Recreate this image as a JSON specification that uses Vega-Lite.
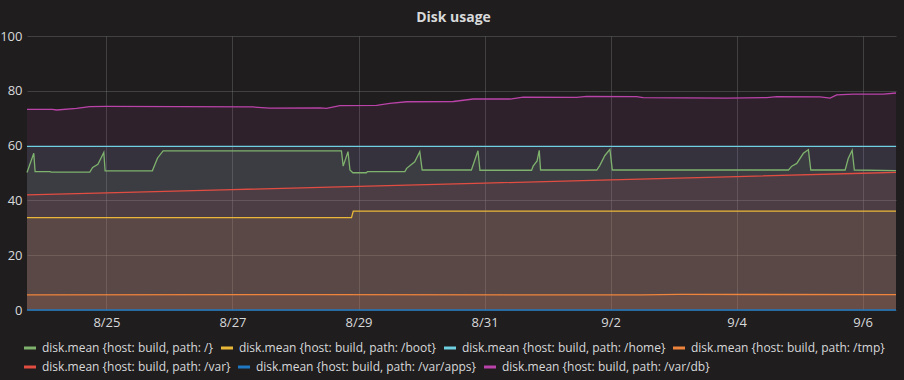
{
  "$schema": "https://vega.github.io/schema/vega-lite/v6.json",
  "width": 869,
  "height": 274,
  "autosize": {"type": "none"},
  "padding": {"left": 27, "top": 36, "right": 8, "bottom": 70},
  "background": "#1f1d1e",
  "config": {"view": {"stroke": null}},
  "title": {"text": "Disk usage", "anchor": "middle", "frame": "group", "dx": -8, "offset": -6, "baseline": "alphabetic", "font": "Open Sans", "fontSize": 14, "fontWeight": "bold", "color": "#d8d9da"},
  "datasets": {
    "series": [
      {"path": "/", "t": "2017-08-23T17:45", "v": 50.2},
      {"path": "/", "t": "2017-08-23T20:20", "v": 57.2},
      {"path": "/", "t": "2017-08-23T20:50", "v": 50.5},
      {"path": "/", "t": "2017-08-24T02:30", "v": 50.5},
      {"path": "/", "t": "2017-08-24T03:00", "v": 50.3},
      {"path": "/", "t": "2017-08-24T17:40", "v": 50.3},
      {"path": "/", "t": "2017-08-24T18:45", "v": 52.0},
      {"path": "/", "t": "2017-08-24T20:45", "v": 53.2},
      {"path": "/", "t": "2017-08-24T23:00", "v": 57.5},
      {"path": "/", "t": "2017-08-24T23:30", "v": 50.8},
      {"path": "/", "t": "2017-08-25T17:30", "v": 50.8},
      {"path": "/", "t": "2017-08-25T19:25", "v": 55.4},
      {"path": "/", "t": "2017-08-25T21:35", "v": 58.1},
      {"path": "/", "t": "2017-08-28T17:30", "v": 58.1},
      {"path": "/", "t": "2017-08-28T18:10", "v": 52.5},
      {"path": "/", "t": "2017-08-28T20:00", "v": 57.8},
      {"path": "/", "t": "2017-08-28T20:45", "v": 51.1},
      {"path": "/", "t": "2017-08-28T21:50", "v": 50.1},
      {"path": "/", "t": "2017-08-29T03:00", "v": 50.1},
      {"path": "/", "t": "2017-08-29T03:25", "v": 50.5},
      {"path": "/", "t": "2017-08-29T17:40", "v": 50.5},
      {"path": "/", "t": "2017-08-29T18:20", "v": 51.7},
      {"path": "/", "t": "2017-08-29T21:25", "v": 54.1},
      {"path": "/", "t": "2017-08-29T23:20", "v": 57.8},
      {"path": "/", "t": "2017-08-30T00:15", "v": 51.1},
      {"path": "/", "t": "2017-08-30T19:00", "v": 51.1},
      {"path": "/", "t": "2017-08-30T21:30", "v": 58.1},
      {"path": "/", "t": "2017-08-30T22:15", "v": 51.0},
      {"path": "/", "t": "2017-08-31T17:55", "v": 51.0},
      {"path": "/", "t": "2017-08-31T18:30", "v": 52.5},
      {"path": "/", "t": "2017-08-31T20:00", "v": 54.4},
      {"path": "/", "t": "2017-08-31T20:50", "v": 58.3},
      {"path": "/", "t": "2017-08-31T21:20", "v": 51.1},
      {"path": "/", "t": "2017-09-01T18:45", "v": 51.1},
      {"path": "/", "t": "2017-09-01T19:55", "v": 52.8},
      {"path": "/", "t": "2017-09-01T21:50", "v": 56.4},
      {"path": "/", "t": "2017-09-01T23:45", "v": 58.6},
      {"path": "/", "t": "2017-09-02T00:40", "v": 51.1},
      {"path": "/", "t": "2017-09-04T19:45", "v": 51.1},
      {"path": "/", "t": "2017-09-04T21:00", "v": 52.5},
      {"path": "/", "t": "2017-09-04T22:55", "v": 53.5},
      {"path": "/", "t": "2017-09-05T01:25", "v": 57.2},
      {"path": "/", "t": "2017-09-05T03:20", "v": 58.5},
      {"path": "/", "t": "2017-09-05T04:15", "v": 51.1},
      {"path": "/", "t": "2017-09-05T17:20", "v": 51.1},
      {"path": "/", "t": "2017-09-05T18:30", "v": 55.3},
      {"path": "/", "t": "2017-09-05T20:00", "v": 58.3},
      {"path": "/", "t": "2017-09-05T20:50", "v": 51.1},
      {"path": "/", "t": "2017-09-06T12:42", "v": 50.9},
      {"path": "/boot", "t": "2017-08-23T17:45", "v": 33.7},
      {"path": "/boot", "t": "2017-08-28T21:20", "v": 33.7},
      {"path": "/boot", "t": "2017-08-28T22:00", "v": 36.1},
      {"path": "/boot", "t": "2017-09-06T12:42", "v": 36.1},
      {"path": "/home", "t": "2017-08-23T17:45", "v": 59.7},
      {"path": "/home", "t": "2017-08-31T00:00", "v": 59.7},
      {"path": "/home", "t": "2017-09-06T12:42", "v": 59.7},
      {"path": "/tmp", "t": "2017-08-23T17:45", "v": 5.5},
      {"path": "/tmp", "t": "2017-08-28T12:00", "v": 5.6},
      {"path": "/tmp", "t": "2017-09-02T12:00", "v": 5.5},
      {"path": "/tmp", "t": "2017-09-03T02:00", "v": 5.7},
      {"path": "/tmp", "t": "2017-09-06T12:42", "v": 5.6},
      {"path": "/var", "t": "2017-08-23T17:45", "v": 42.0},
      {"path": "/var", "t": "2017-08-25T00:00", "v": 42.75},
      {"path": "/var", "t": "2017-08-27T00:00", "v": 43.95},
      {"path": "/var", "t": "2017-08-29T00:00", "v": 45.1},
      {"path": "/var", "t": "2017-08-31T00:00", "v": 46.3},
      {"path": "/var", "t": "2017-09-02T00:00", "v": 47.5},
      {"path": "/var", "t": "2017-09-04T00:00", "v": 48.7},
      {"path": "/var", "t": "2017-09-06T00:00", "v": 49.9},
      {"path": "/var", "t": "2017-09-06T12:42", "v": 50.2},
      {"path": "/var/apps", "t": "2017-08-23T17:45", "v": 0},
      {"path": "/var/apps", "t": "2017-09-06T12:42", "v": 0},
      {"path": "/var/db", "t": "2017-08-23T17:45", "v": 73.2},
      {"path": "/var/db", "t": "2017-08-24T03:30", "v": 73.2},
      {"path": "/var/db", "t": "2017-08-24T05:00", "v": 73.0},
      {"path": "/var/db", "t": "2017-08-24T12:36", "v": 73.6},
      {"path": "/var/db", "t": "2017-08-24T17:36", "v": 74.2},
      {"path": "/var/db", "t": "2017-08-25T00:00", "v": 74.3},
      {"path": "/var/db", "t": "2017-08-27T07:42", "v": 74.1},
      {"path": "/var/db", "t": "2017-08-27T14:12", "v": 73.7},
      {"path": "/var/db", "t": "2017-08-28T09:18", "v": 73.8},
      {"path": "/var/db", "t": "2017-08-28T11:48", "v": 73.6},
      {"path": "/var/db", "t": "2017-08-28T16:54", "v": 74.6},
      {"path": "/var/db", "t": "2017-08-29T06:54", "v": 74.7},
      {"path": "/var/db", "t": "2017-08-29T11:54", "v": 75.4},
      {"path": "/var/db", "t": "2017-08-29T18:18", "v": 76.0},
      {"path": "/var/db", "t": "2017-08-30T12:06", "v": 76.1},
      {"path": "/var/db", "t": "2017-08-30T19:42", "v": 77.0},
      {"path": "/var/db", "t": "2017-08-31T09:42", "v": 77.0},
      {"path": "/var/db", "t": "2017-08-31T14:42", "v": 77.7},
      {"path": "/var/db", "t": "2017-09-01T11:06", "v": 77.6},
      {"path": "/var/db", "t": "2017-09-01T14:54", "v": 78.0},
      {"path": "/var/db", "t": "2017-09-02T09:54", "v": 77.9},
      {"path": "/var/db", "t": "2017-09-02T12:24", "v": 77.5},
      {"path": "/var/db", "t": "2017-09-03T20:12", "v": 77.3},
      {"path": "/var/db", "t": "2017-09-04T11:30", "v": 77.5},
      {"path": "/var/db", "t": "2017-09-04T15:18", "v": 77.9},
      {"path": "/var/db", "t": "2017-09-05T07:48", "v": 77.8},
      {"path": "/var/db", "t": "2017-09-05T11:36", "v": 77.3},
      {"path": "/var/db", "t": "2017-09-05T14:06", "v": 78.5},
      {"path": "/var/db", "t": "2017-09-05T20:30", "v": 78.8},
      {"path": "/var/db", "t": "2017-09-06T07:54", "v": 78.8},
      {"path": "/var/db", "t": "2017-09-06T12:42", "v": 79.2}
    ]
  },
  "data": {"name": "series"},
  "encoding": {
    "x": {
      "field": "t",
      "type": "temporal",
      "scale": {"domain": [
        {"year": 2017, "month": 8, "date": 23, "hours": 17, "minutes": 45},
        {"year": 2017, "month": 9, "date": 6, "hours": 12, "minutes": 42}
      ]},
      "axis": {
        "title": null,
        "values": [
          {"year": 2017, "month": 8, "date": 25},
          {"year": 2017, "month": 8, "date": 27},
          {"year": 2017, "month": 8, "date": 29},
          {"year": 2017, "month": 8, "date": 31},
          {"year": 2017, "month": 9, "date": 2},
          {"year": 2017, "month": 9, "date": 4},
          {"year": 2017, "month": 9, "date": 6}
        ],
        "format": "%-m/%-d",
        "grid": true,
        "gridColor": "#787878",
        "gridOpacity": 0.4,
        "ticks": false,
        "domain": false,
        "labelPadding": 6,
        "labelFont": "Open Sans",
        "labelFontSize": 13,
        "labelColor": "#d8d9da",
        "labelFlush": false
      }
    },
    "y": {
      "field": "v",
      "type": "quantitative",
      "stack": null,
      "scale": {"domain": [0, 100], "nice": false},
      "axis": {
        "title": null,
        "values": [0, 20, 40, 60, 80, 100],
        "grid": true,
        "gridColor": "#787878",
        "gridOpacity": 0.4,
        "ticks": false,
        "domain": false,
        "labelPadding": 5,
        "labelFont": "Open Sans",
        "labelFontSize": 13,
        "labelColor": "#d8d9da"
      }
    }
  },
  "layer": [
    {
      "mark": {"type": "area", "fillOpacity": 0.1},
      "encoding": {
        "fill": {
          "field": "path",
          "type": "nominal",
          "scale": {
            "domain": ["/var", "/var/apps", "/var/db", "/", "/boot", "/home", "/tmp"],
            "range": ["#E24D42", "#1F78C1", "#BA43A9", "#7EB26D", "#EAB839", "#6ED0E0", "#EF843C"]
          },
          "legend": {
            "orient": "none",
            "legendX": -3,
            "legendY": 325,
            "direction": "horizontal",
            "values": ["/var", "/var/apps", "/var/db"],
            "title": null,
            "symbolType": "M-1,-0.25H1V0.25H-1Z",
            "symbolSize": 144,
            "symbolStrokeWidth": 0,
            "symbolOpacity": 1,
            "labelFont": "Open Sans",
            "labelFontSize": 12,
            "labelColor": "#d8d9da",
            "labelLimit": 400,
            "labelOffset": 6,
            "columnPadding": 7,
            "labelExpr": "'disk.mean {host: build, path: ' + datum.label + '}'",
            "encode": {"symbols": {"update": {"fill": {"scale": "fill", "field": "value"}, "fillOpacity": {"value": 1}, "opacity": {"value": 1}}}}
          }
        }
      }
    },
    {
      "mark": {"type": "line", "strokeWidth": 1.3},
      "encoding": {
        "stroke": {
          "field": "path",
          "type": "nominal",
          "scale": {
            "domain": ["/", "/boot", "/home", "/tmp", "/var", "/var/apps", "/var/db"],
            "range": ["#7EB26D", "#EAB839", "#6ED0E0", "#EF843C", "#E24D42", "#1F78C1", "#BA43A9"]
          },
          "legend": {
            "orient": "none",
            "legendX": -3,
            "legendY": 306,
            "direction": "horizontal",
            "values": ["/", "/boot", "/home", "/tmp"],
            "title": null,
            "symbolType": "M-1,-0.25H1V0.25H-1Z",
            "symbolSize": 144,
            "symbolStrokeWidth": 0,
            "symbolOpacity": 1,
            "labelFont": "Open Sans",
            "labelFontSize": 12,
            "labelColor": "#d8d9da",
            "labelLimit": 400,
            "labelOffset": 6,
            "columnPadding": 7,
            "labelExpr": "'disk.mean {host: build, path: ' + datum.label + '}'",
            "encode": {"symbols": {"update": {"fill": {"scale": "stroke", "field": "value"}, "fillOpacity": {"value": 1}, "opacity": {"value": 1}}}}
          }
        }
      }
    }
  ]
}
